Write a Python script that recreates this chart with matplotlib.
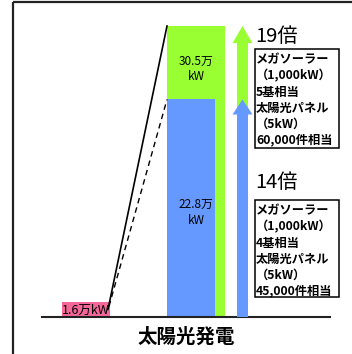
import matplotlib
matplotlib.use('Agg')
import matplotlib.pyplot as plt
from matplotlib.patches import Rectangle

plt.rcParams['font.family'] = ['Noto Sans CJK JP', 'DejaVu Sans']

# 出力 (万kW)
before = 1.6
after_total = 30.5
after_base = 22.8
category = '太陽光発電'
before_label = '1.6万kW'
total_label = '30.5万\nkW'
base_label = '22.8万\nkW'
ratio_labels = ['19倍', '14倍']
note_total = ['メガソーラー', '（1,000kW）', '5基相当', '太陽光パネル', '（5kW）', '60,000件相当']
note_base = ['メガソーラー', '（1,000kW）', '4基相当', '太陽光パネル', '（5kW）', '45,000件相当']

green = '#99FF33'
blue = '#6699FF'
pink = '#F5669A'

W, H = 352, 354
base_px = 317          # 基準線の位置 (上から)
unit_px = 9.54         # 1万kW あたりの高さ


def py(y):
    # 上からのピクセル位置 -> データ座標
    return (base_px - y) / unit_px


fig = plt.figure(figsize=(W / 100, H / 100), dpi=100)
ax = fig.add_axes([0, 0, 1, 1])
ax.set_xlim(0, W)
ax.set_ylim(py(H), py(0))
ax.axis('off')

# 外枠
ax.plot([13, 13], [py(H), py(2)], color='#222222', lw=1.6, solid_capstyle='butt')
ax.plot([13, W], [py(2), py(2)], color='#222222', lw=1.6, solid_capstyle='butt')

# 棒
ax.bar(62, before, width=48, align='edge', color=pink, zorder=2)
ax.bar(167, after_total, width=58, align='edge', color=green, zorder=2)
ax.bar(167, after_base, width=48, align='edge', color=blue, zorder=3)

# 基準線
ax.plot([42, 330], [0, 0], color='#222222', lw=1.5, zorder=4)

# 増加を示す線
ax.plot([108, 167], [before * 0.5, after_total], color='black', lw=1.2, zorder=4)
ax.plot([109, 167], [before * 0.7, after_base], color='black', lw=1.0,
        ls=(0, (4, 3)), zorder=4)

# 矢印
ax.arrow(242.5, 0, 0, after_total, width=11, head_width=20, head_length=17 / unit_px,
         length_includes_head=True, color=green, lw=0, zorder=3)
ax.arrow(242.5, 0, 0, after_base, width=11, head_width=20, head_length=15 / unit_px,
         length_includes_head=True, color=blue, lw=0, zorder=4)

# ラベル
ax.text(86, py(310), before_label, ha='center', va='center', fontsize=9, zorder=5)
ax.text(196, py(69), total_label, ha='center', va='center', fontsize=8.5,
        linespacing=1.3, zorder=5)
ax.text(196, py(212), base_label, ha='center', va='center', fontsize=8.5,
        linespacing=1.3, zorder=5)
ax.text(186, py(337), category, ha='center', va='center', fontsize=14,
        fontweight='bold')

# 倍率と説明
for label, notes, y_ratio, box_top, box_bottom in [
        (ratio_labels[0], note_total, 37, 49, 148),
        (ratio_labels[1], note_base, 183, 200, 297)]:
    ax.text(255, py(y_ratio), label, ha='left', va='center', fontsize=14.5)
    ax.add_patch(Rectangle((255, py(box_bottom)), 84, py(box_top) - py(box_bottom),
                           facecolor='white', edgecolor='black', lw=1.1, zorder=5))
    for i, line in enumerate(notes):
        ax.text(256, py(box_top + 11 + 16 * i), line, ha='left', va='center',
                fontsize=8.8, fontweight='bold', zorder=6)

fig.savefig('out.png', dpi=100)
